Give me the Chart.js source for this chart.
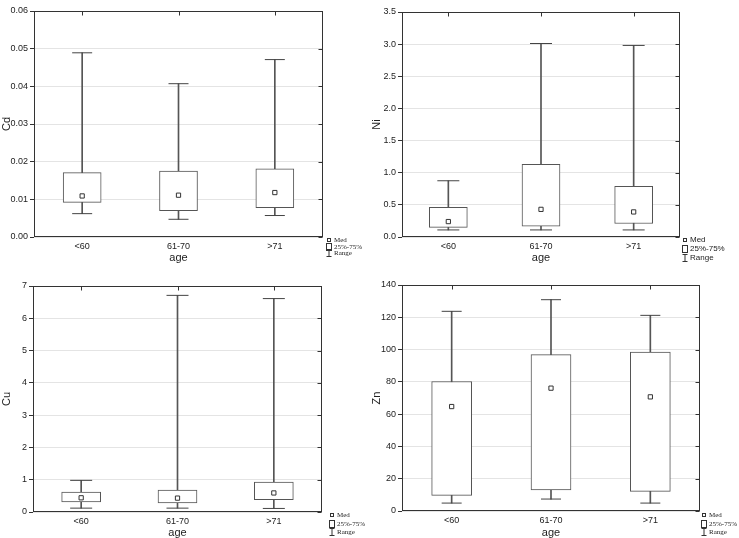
<!DOCTYPE html>
<html>
<head>
<meta charset="utf-8">
<script src="https://cdn.jsdelivr.net/npm/chart.js@4"></script>
<style>
  body { margin: 0; background: #fff; width: 739px; height: 538px; position: relative; overflow: hidden; }
  .panel { position: absolute; }
  .leg { position: absolute; color: #222; white-space: nowrap; }
  .leg div { position: absolute; left: 0; display: flex; align-items: center; }
  .leg svg { margin-right: 2px; }
</style>
</head>
<body>
<div class="panel" style="left:0;top:0;width:370px;height:266px"><canvas id="cd"></canvas></div>
<div class="panel" style="left:370px;top:0;width:369px;height:266px"><canvas id="ni"></canvas></div>
<div class="panel" style="left:0;top:270px;width:370px;height:270px"><canvas id="cu"></canvas></div>
<div class="panel" style="left:370px;top:270px;width:369px;height:270px"><canvas id="zn"></canvas></div>

<script>
// grupos de edad
const categories = ['<60', '61-70', '>71'];

// Cd
const cdMin = [0.0062, 0.0047, 0.0057];
const cdQ1  = [0.0092, 0.0070, 0.0078];
const cdMed = [0.0109, 0.0111, 0.0118];
const cdQ3  = [0.0171, 0.0175, 0.0181];
const cdMax = [0.0489, 0.0407, 0.0471];

// Ni
const niMin = [0.11, 0.11, 0.11];
const niQ1  = [0.15, 0.17, 0.21];
const niMed = [0.24, 0.43, 0.39];
const niQ3  = [0.46, 1.13, 0.79];
const niMax = [0.875, 3.01, 2.98];

// Cu
const cuMin = [0.12, 0.12, 0.11];
const cuQ1  = [0.31, 0.28, 0.38];
const cuMed = [0.44, 0.43, 0.59];
const cuQ3  = [0.62, 0.68, 0.93];
const cuMax = [0.98, 6.71, 6.61];

// Zn
const znMin = [4.9, 7.4, 4.9];
const znQ1  = [9.7, 13.0, 12.2];
const znMed = [64.7, 76.1, 70.7];
const znQ3  = [80.2, 96.9, 98.4];
const znMax = [123.7, 130.9, 121.2];

const legendLabels = ['Med', '25%-75%', 'Range'];

// marco del area + marcas interiores (derecha y arriba)
const framePlugin = {
    id: 'frame',
    afterDraw(chart) {
        const ctx = chart.ctx;
        const a = chart.chartArea;
        const x = chart.scales.x, y = chart.scales.y;
        ctx.save();
        ctx.strokeStyle = '#333';
        ctx.lineWidth = 1;
        const l = Math.round(a.left) + 0.5, r = Math.round(a.right) - 0.5;
        const t = Math.round(a.top) + 0.5, b = Math.round(a.bottom) - 0.5;
        ctx.strokeRect(l, t, r - l, b - t);
        ctx.beginPath();
        y.ticks.forEach(tk => {
            const py = Math.round(y.getPixelForValue(tk.value)) + 0.5;
            ctx.moveTo(r - 4, py);
            ctx.lineTo(r, py);
        });
        x.ticks.forEach((tk, i) => {
            const px = Math.round(x.getPixelForTick(i)) + 0.5;
            ctx.moveTo(px, t);
            ctx.lineTo(px, t + 4);
        });
        ctx.stroke();
        ctx.restore();
    }
};

function boxChart(id, mins, q1s, meds, q3s, maxs, yMax, step, dec, title, lay) {
    const ctx = document.getElementById(id);
    new Chart(ctx, {
        type: 'bar',
        data: {
            labels: categories,
            datasets: [
                { type: 'line', data: meds, showLine: false, pointStyle: 'rect', pointRadius: 3,
                  pointBackgroundColor: '#fff', pointBorderColor: '#333', pointBorderWidth: 1, order: 0 },
                { type: 'line', data: mins, showLine: false, pointStyle: 'line', pointRadius: lay.cap,
                  pointBorderColor: '#444', pointBorderWidth: 1, order: 1 },
                { type: 'line', data: maxs, showLine: false, pointStyle: 'line', pointRadius: lay.cap,
                  pointBorderColor: '#444', pointBorderWidth: 1, order: 1 },
                { data: q1s.map((v, i) => [v, q3s[i]]), backgroundColor: '#fff', borderColor: '#555',
                  borderWidth: 1, borderSkipped: false, barThickness: lay.box, grouped: false, order: 2 },
                { data: mins.map((v, i) => [v, maxs[i]]), backgroundColor: '#555',
                  barThickness: 1, grouped: false, order: 3 }
            ]
        },
        options: {
            responsive: true,
            maintainAspectRatio: false,
            animation: false,
            events: [],
            layout: { padding: { left: 0, top: lay.top, right: lay.right, bottom: 0 } },
            plugins: { legend: { display: false }, tooltip: { enabled: false } },
            scales: {
                x: {
                    grid: { display: false, drawTicks: false },
                    border: { display: false },
                    ticks: { font: { family: 'Liberation Sans', size: 9 }, color: '#222', padding: 4 },
                    title: { display: true, text: 'age', color: '#222',
                             font: { family: 'Liberation Sans', size: 11 }, padding: { top: 0, bottom: lay.tb } },
                    afterFit: s => { s.height = lay.xh; s.paddingLeft = 0; s.paddingRight = 0; }
                },
                y: {
                    min: 0,
                    max: yMax,
                    grid: { color: '#e4e4e4', tickLength: 4, tickColor: '#333' },
                    border: { display: false },
                    ticks: { stepSize: step, callback: v => Number(v).toFixed(dec),
                             font: { family: 'Liberation Sans', size: 9 }, color: '#222', padding: 2 },
                    title: { display: true, text: title, color: '#222',
                             font: { family: 'Liberation Sans', size: 11 }, padding: 0 },
                    afterFit: s => { s.width = lay.yw; s.paddingTop = 0; s.paddingBottom = 0; }
                }
            }
        },
        plugins: [framePlugin]
    });
}

// leyenda en HTML
function addLegend(left, top, lineH, size, family) {
    const box = document.createElement('div');
    box.className = 'leg';
    box.style.left = left + 'px';
    box.style.top = top + 'px';
    box.style.font = size + 'px ' + family;
    const icons = [
        '<svg width="6" height="6"><rect x="1.5" y="1.5" width="3" height="3" fill="#fff" stroke="#333"/></svg>',
        '<svg width="6" height="8"><rect x="0.5" y="0.5" width="5" height="7" fill="#fff" stroke="#333"/></svg>',
        '<svg width="6" height="8"><path d="M0.5 0.5H5.5M3 0.5V7.5M0.5 7.5H5.5" stroke="#333" fill="none"/></svg>'
    ];
    legendLabels.forEach((lbl, i) => {
        const row = document.createElement('div');
        row.style.top = (i * lineH) + 'px';
        row.style.height = lineH + 'px';
        row.innerHTML = icons[i] + '<span>' + lbl + '</span>';
        box.appendChild(row);
    });
    document.body.appendChild(box);
}

boxChart('cd', cdMin, cdQ1, cdMed, cdQ3, cdMax, 0.06, 0.01, 2, 'Cd',
    { top: 6, right: 47, yw: 34, xh: 29, tb: 1, box: 38, cap: 10 });
boxChart('ni', niMin, niQ1, niMed, niQ3, niMax, 3.5, 0.5, 1, 'Ni',
    { top: 3, right: 59, yw: 32, xh: 29, tb: 1, box: 38, cap: 11 });
boxChart('cu', cuMin, cuQ1, cuMed, cuQ3, cuMax, 7, 1, 0, 'Cu',
    { top: 16, right: 48, yw: 33, xh: 28, tb: 0, box: 39, cap: 11 });
boxChart('zn', znMin, znQ1, znMed, znQ3, znMax, 140, 20, 0, 'Zn',
    { top: 15, right: 39, yw: 32, xh: 29, tb: 0, box: 40, cap: 10 });

addLegend(326, 237, 6.5, 7, '"Liberation Serif", serif');
addLegend(682, 235, 9, 8, '"Liberation Sans", sans-serif');
addLegend(329, 511, 8.5, 7, '"Liberation Serif", serif');
addLegend(701, 511, 8.5, 7, '"Liberation Serif", serif');
</script>
</body>
</html>
